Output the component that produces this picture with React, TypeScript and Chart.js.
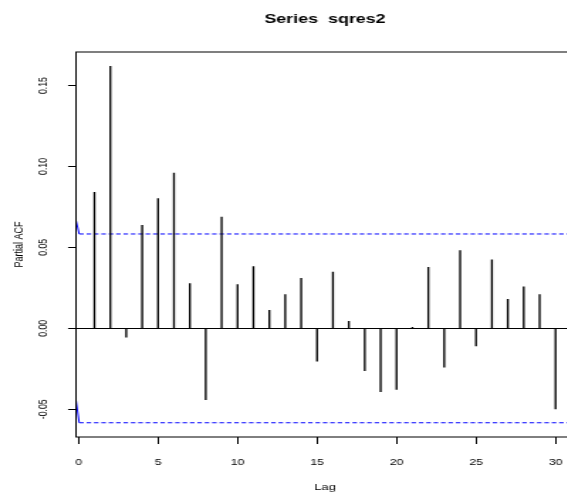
import React, { useEffect, useRef } from 'react';
import { Chart, registerables } from 'chart.js';

Chart.register(...registerables);

// ---- data ----
const lags = [1, 2, 3, 4, 5, 6, 7, 8, 9, 10, 11, 12, 13, 14, 15, 16, 17, 18, 19, 20, 21, 22, 23, 24, 25, 26, 27, 28, 29, 30];
const pacfValues = [
  0.0841, 0.1619, -0.0054, 0.0636, 0.0801, 0.0959, 0.0276, -0.044, 0.0687, 0.027,
  0.0381, 0.0111, 0.0208, 0.0309, -0.0202, 0.0348, 0.0043, -0.0261, -0.0391, -0.0377,
  0.0006, 0.0377, -0.0239, 0.048, -0.0109, 0.0424, 0.0179, 0.0257, 0.0208, -0.0498,
];
const xTickValues = [0, 5, 10, 15, 20, 25, 30];
const yTickValues = [-0.05, 0, 0.05, 0.1, 0.15];
const ciLimit = 0.0583;
const ciLeadLags = [-0.16, 0.04];
const ciLeadUpper = [0.0667, 0.0583];
const ciLeadLower = [-0.0444, -0.0583];
const xLimits = [-0.16, 31.16];
const yLimits = [-0.0671, 0.1707];

const titleText = 'Series  sqres2';
const xTitle = 'Lag';
const yTitle = 'Partial ACF';

const FONT = "'Liberation Sans', Arial, Helvetica, sans-serif";
const STRETCH = 1.42;
const CANVAS_W = 460;
const CANVAS_H = 497;

const boxPlugin = {
  id: 'rbox',
  afterDatasetsDraw(chart: any) {
    const { ctx, chartArea } = chart;
    const { left, top, right, bottom } = chartArea;
    ctx.save();
    ctx.strokeStyle = '#000';
    ctx.lineWidth = 1;
    ctx.strokeRect(left, top, right - left, bottom - top);
    ctx.restore();
  },
};

export default function App() {
  const ref = useRef<HTMLCanvasElement | null>(null);

  useEffect(() => {
    if (!ref.current) return;
    const blue = '#0000ff';
    const lineBase = { type: 'line' as const, pointRadius: 0, borderWidth: 1, borderColor: blue, fill: false, tension: 0 };
    const chart = new Chart(ref.current, {
      type: 'bar',
      data: {
        datasets: [
          {
            type: 'bar',
            data: lags.map((l, i) => ({ x: l, y: pacfValues[i] })),
            backgroundColor: '#000',
            borderWidth: 0,
            barThickness: 0.7,
          } as any,
          { ...lineBase, data: [{ x: ciLeadLags[0], y: ciLeadUpper[0] }, { x: ciLeadLags[1], y: ciLeadUpper[1] }] } as any,
          { ...lineBase, data: [{ x: ciLeadLags[0], y: ciLeadLower[0] }, { x: ciLeadLags[1], y: ciLeadLower[1] }] } as any,
          { ...lineBase, borderDash: [3.2, 2.0], data: [{ x: ciLeadLags[1], y: ciLimit }, { x: xLimits[1], y: ciLimit }] } as any,
          { ...lineBase, borderDash: [3.2, 2.0], data: [{ x: ciLeadLags[1], y: -ciLimit }, { x: xLimits[1], y: -ciLimit }] } as any,
        ],
      },
      options: {
        animation: false,
        responsive: false,
        devicePixelRatio: 1,
        layout: { padding: { left: 0, right: 55.8, top: 0, bottom: 0 } },
        plugins: {
          legend: { display: false },
          tooltip: { enabled: false },
          title: {
            display: true,
            text: titleText,
            fullSize: false,
            color: '#000',
            font: { family: FONT, size: 12.6, weight: 'bold', lineHeight: 1.2 },
            padding: { top: 12, bottom: 24.88 },
          },
        },
        scales: {
          x: {
            type: 'linear',
            min: xLimits[0],
            max: xLimits[1],
            offset: false,
            afterBuildTicks: (s: any) => {
              s.ticks = xTickValues.map((v) => ({ value: v }));
            },
            afterFit: (s: any) => {
              s.height = 60;
            },
            grid: { offset: false, drawOnChartArea: false, tickLength: 7, tickColor: '#000', lineWidth: 1 },
            border: { display: false },
            ticks: {
              autoSkip: false,
              maxRotation: 0,
              minRotation: 0,
              padding: 13.4,
              color: '#000',
              font: { family: FONT, size: 8.7 },
              callback: (v: any) => String(v),
            },
            title: {
              display: true,
              text: xTitle,
              color: '#000',
              font: { family: FONT, size: 9.2, lineHeight: 1.2 },
              padding: { top: 0, bottom: 4.5 },
            },
          },
          y: {
            type: 'linear',
            min: yLimits[0],
            max: yLimits[1],
            afterBuildTicks: (s: any) => {
              s.ticks = yTickValues.map((v) => ({ value: v }));
            },
            afterFit: (s: any) => {
              s.width = 53.52;
            },
            grid: {
              offset: false,
              color: (c: any) => (c.tick && Math.abs(c.tick.value) < 1e-9 ? '#000' : 'rgba(0,0,0,0)'),
              tickColor: '#000',
              tickLength: 5.6,
              lineWidth: 1,
            },
            border: { display: false },
            ticks: {
              minRotation: 90,
              maxRotation: 90,
              crossAlign: 'center',
              padding: 7,
              color: '#000',
              font: { family: FONT, size: 8.7 },
              callback: (v: any) => Number(v).toFixed(2),
            },
            title: {
              display: true,
              text: yTitle,
              color: '#000',
              font: { family: FONT, size: 9, lineHeight: 1.2 },
              padding: { top: 8, bottom: 0 },
            },
          },
        },
      } as any,
      plugins: [boxPlugin],
    });
    return () => chart.destroy();
  }, []);

  return (
    <div
      style={{
        position: 'fixed',
        left: 0,
        top: 0,
        width: 567,
        height: 497,
        overflow: 'hidden',
        background: '#fff',
      }}
    >
      <div style={{ transform: `scaleX(${STRETCH})`, transformOrigin: '0 0', width: CANVAS_W, height: CANVAS_H }}>
        <canvas ref={ref} width={CANVAS_W} height={CANVAS_H} style={{ display: 'block' }} />
      </div>
    </div>
  );
}
